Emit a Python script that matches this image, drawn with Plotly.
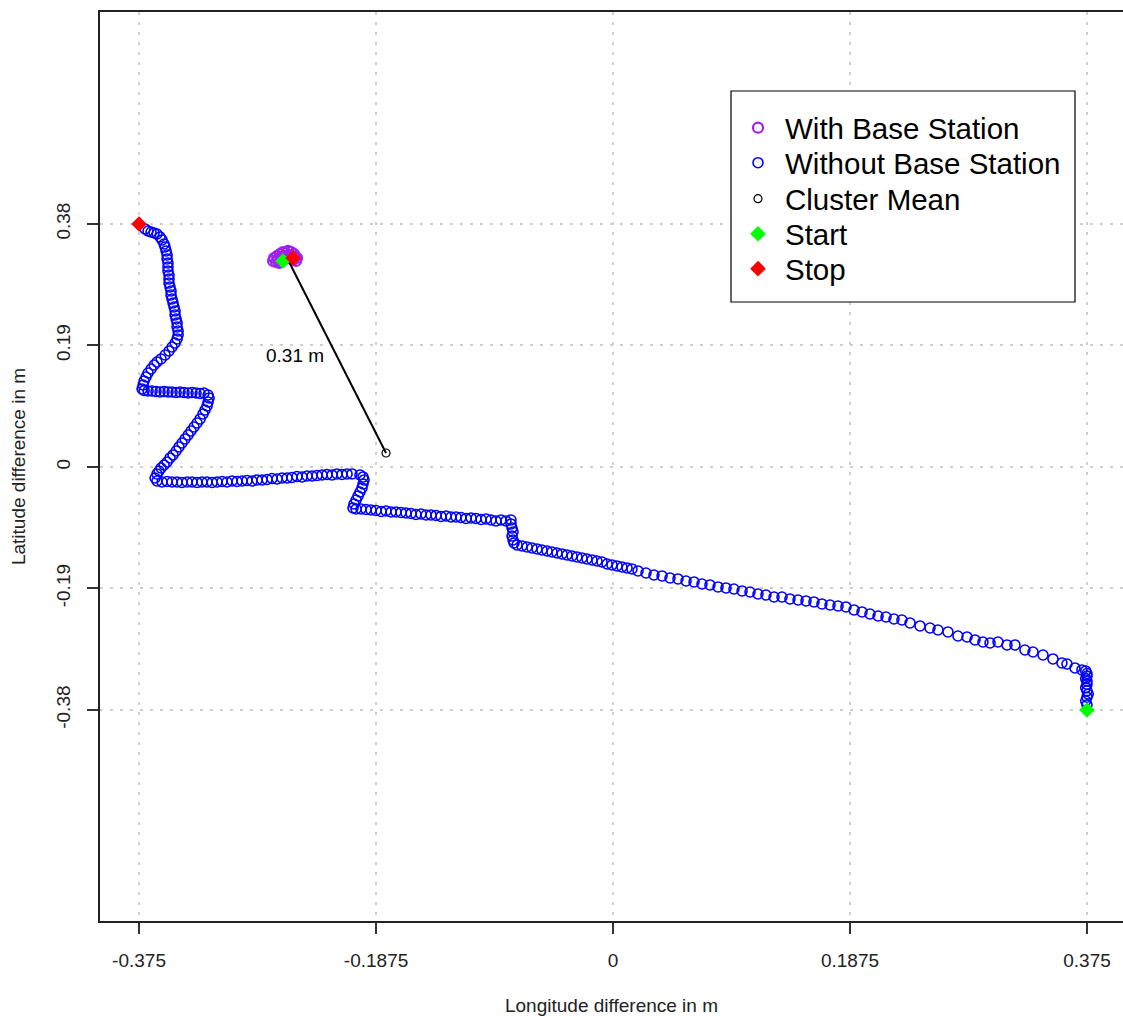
import plotly.graph_objects as go

# ---------------- data ----------------
x_tick_vals = [-0.375, -0.1875, 0, 0.1875, 0.375]
x_tick_text = ["-0.375", "-0.1875", "0", "0.1875", "0.375"]
y_tick_vals = [0.38, 0.19, 0, -0.19, -0.38]
y_tick_text = ["0.38", "0.19", "0", "-0.19", "-0.38"]

# Track without base station (start -> stop)
without_x = [
    0.375, 0.374, 0.375, 0.376, 0.375, 0.374, 0.375, 0.375, 0.374, 0.375, 0.375, 0.374,
    0.3710, 0.3655, 0.3592, 0.3552, 0.3481, 0.3402, 0.3323, 0.3259, 0.3180, 0.3117, 0.3046,
    0.2983, 0.2927, 0.2864, 0.2801, 0.2729, 0.2650, 0.2571, 0.2508, 0.2429, 0.2350, 0.2286,
    0.2223, 0.2160, 0.2097, 0.2033, 0.1970, 0.1907, 0.1843, 0.1780, 0.1717, 0.1653, 0.1590,
    0.1527, 0.1464, 0.1400, 0.1337, 0.1274, 0.1210, 0.1147, 0.1084, 0.1021, 0.0957, 0.0894,
    0.0831, 0.0767, 0.0704, 0.0641, 0.0578, 0.0514, 0.0451, 0.0388, 0.0324, 0.0261, 0.0198,
    0.0150, 0.0111, 0.0071, 0.0032, -0.0008, -0.0047, -0.0087, -0.0127, -0.0166, -0.0206,
    -0.0245, -0.0285, -0.0324, -0.0364, -0.0403, -0.0443, -0.0483, -0.0522, -0.0562, -0.0601,
    -0.0641, -0.0680, -0.0720, -0.0759, -0.0783,
    -0.0791, -0.0799, -0.0791, -0.0799, -0.0807, -0.0807,
    -0.0847, -0.0886, -0.0926, -0.0965, -0.1005, -0.1044, -0.1084, -0.1123, -0.1163, -0.1203,
    -0.1242, -0.1282, -0.1321, -0.1361, -0.1400, -0.1440, -0.1479, -0.1519, -0.1559, -0.1598,
    -0.1638, -0.1677, -0.1717, -0.1756, -0.1796, -0.1835, -0.1875, -0.1915, -0.1954, -0.1994,
    -0.2033,
    -0.2057, -0.2049, -0.2033, -0.2017, -0.2002, -0.1986, -0.1978, -0.1970, -0.1978, -0.2002,
    -0.2065, -0.2104, -0.2144, -0.2184, -0.2223, -0.2263, -0.2302, -0.2342, -0.2381, -0.2421,
    -0.2460, -0.2500, -0.2540, -0.2579, -0.2619, -0.2658, -0.2698, -0.2737, -0.2777, -0.2816,
    -0.2856, -0.2896, -0.2935, -0.2975, -0.3014, -0.3054, -0.3093, -0.3133, -0.3172, -0.3212,
    -0.3252, -0.3291, -0.3331, -0.3370, -0.3410, -0.3449, -0.3489, -0.3528, -0.3568, -0.3608,
    -0.3623, -0.3608, -0.3592, -0.3576, -0.3552, -0.3528, -0.3505, -0.3481, -0.3457, -0.3434,
    -0.3410, -0.3386, -0.3362, -0.3339, -0.3315, -0.3291, -0.3267, -0.3244, -0.3228, -0.3212,
    -0.3204, -0.3196, -0.3204,
    -0.3236, -0.3267, -0.3299, -0.3331, -0.3362, -0.3394, -0.3426, -0.3457, -0.3489, -0.3521,
    -0.3552, -0.3584, -0.3616, -0.3647, -0.3679, -0.3710, -0.3726,
    -0.3718, -0.3710, -0.3695, -0.3679, -0.3655, -0.3631, -0.3608, -0.3576, -0.3544, -0.3513,
    -0.3489, -0.3465, -0.3449, -0.3441,
    -0.3441, -0.3449, -0.3449, -0.3457, -0.3465, -0.3465, -0.3473, -0.3481, -0.3489, -0.3497,
    -0.3497, -0.3505, -0.3513, -0.3513, -0.3513, -0.3521, -0.3521, -0.3521, -0.3528, -0.3528,
    -0.3536, -0.3544, -0.3552,
    -0.3568, -0.3584, -0.3608, -0.3631, -0.3655, -0.3679, -0.3703,
]
without_y = [
    -0.372, -0.366, -0.360, -0.355, -0.350, -0.345, -0.340, -0.335, -0.331, -0.327, -0.323, -0.319,
    -0.3174, -0.3143, -0.3081, -0.3065, -0.3002, -0.2940, -0.2893, -0.2862, -0.2783, -0.2783, -0.2737,
    -0.2752, -0.2737, -0.2705, -0.2658, -0.2643, -0.2580, -0.2549, -0.2518, -0.2486, -0.2439, -0.2393,
    -0.2377, -0.2346, -0.2330, -0.2299, -0.2267, -0.2236, -0.2189, -0.2174, -0.2158, -0.2142, -0.2111,
    -0.2095, -0.2080, -0.2064, -0.2033, -0.2033, -0.2002, -0.1986, -0.1955, -0.1939, -0.1908, -0.1892,
    -0.1876, -0.1845, -0.1830, -0.1798, -0.1783, -0.1751, -0.1736, -0.1704, -0.1689, -0.1658, -0.1626,
    -0.1595, -0.1579, -0.1564, -0.1548, -0.1532, -0.1517, -0.1486, -0.1470, -0.1454, -0.1439,
    -0.1423, -0.1407, -0.1392, -0.1376, -0.1360, -0.1345, -0.1329, -0.1314, -0.1298, -0.1282,
    -0.1267, -0.1251, -0.1235, -0.1220, -0.1188,
    -0.1142, -0.1079, -0.1016, -0.0954, -0.0891, -0.0829,
    -0.0844, -0.0829, -0.0844, -0.0829, -0.0813, -0.0821, -0.0805, -0.0797, -0.0805, -0.0790,
    -0.0782, -0.0782, -0.0766, -0.0774, -0.0758, -0.0751, -0.0751, -0.0735, -0.0743, -0.0727,
    -0.0719, -0.0711, -0.0704, -0.0704, -0.0688, -0.0696, -0.0680, -0.0672, -0.0665, -0.0657,
    -0.0657,
    -0.0641, -0.0579, -0.0516, -0.0453, -0.0391, -0.0328, -0.0266, -0.0203, -0.0156, -0.0125,
    -0.0109, -0.0109, -0.0117, -0.0109, -0.0125, -0.0117, -0.0125, -0.0133, -0.0141, -0.0141,
    -0.0156, -0.0149, -0.0164, -0.0172, -0.0172, -0.0188, -0.0180, -0.0195, -0.0203, -0.0203,
    -0.0219, -0.0211, -0.0219, -0.0227, -0.0219, -0.0235, -0.0227, -0.0235, -0.0242, -0.0235,
    -0.0235, -0.0242, -0.0235, -0.0235, -0.0242, -0.0235, -0.0235, -0.0227, -0.0235, -0.0219,
    -0.0172, -0.0109, -0.0063, -0.0016, 0.0031, 0.0078, 0.0141, 0.0188, 0.0250, 0.0313,
    0.0375, 0.0438, 0.0500, 0.0563, 0.0625, 0.0688, 0.0751, 0.0829, 0.0891, 0.0954,
    0.1016, 0.1079, 0.1126,
    0.1157, 0.1149, 0.1157, 0.1165, 0.1157, 0.1165, 0.1173, 0.1165, 0.1173, 0.1173,
    0.1181, 0.1173, 0.1181, 0.1188, 0.1188, 0.1196, 0.1220,
    0.1282, 0.1345, 0.1407, 0.1470, 0.1532, 0.1595, 0.1642, 0.1689, 0.1751, 0.1814,
    0.1876, 0.1939, 0.2002, 0.2064,
    0.2127, 0.2189, 0.2252, 0.2314, 0.2377, 0.2439, 0.2502, 0.2565, 0.2627, 0.2690,
    0.2752, 0.2815, 0.2877, 0.2940, 0.3002, 0.3065, 0.3127, 0.3190, 0.3253, 0.3315,
    0.3378, 0.3440, 0.3487,
    0.3550, 0.3597, 0.3643, 0.3659, 0.3675, 0.3690, 0.3722,
]

# Cluster with base station
with_x = [-0.2690, -0.2682, -0.2666, -0.2658, -0.2650, -0.2642, -0.2634, -0.2627,
          -0.2619, -0.2611, -0.2603, -0.2595, -0.2587, -0.2579, -0.2571, -0.2563,
          -0.2555, -0.2547, -0.2540, -0.2532, -0.2524, -0.2516, -0.2508, -0.2500]
with_y = [0.3221, 0.3268, 0.3206, 0.3300, 0.3237, 0.3190, 0.3331, 0.3268,
          0.3221, 0.3362, 0.3300, 0.3253, 0.3346, 0.3284, 0.3378, 0.3315,
          0.3268, 0.3362, 0.3300, 0.3237, 0.3331, 0.3284, 0.3221, 0.3268]

start_x = [0.375, -0.2611]
start_y = [-0.38, 0.3221]
stop_x = [-0.375, -0.2532]
stop_y = [0.38, 0.3268]

mean_x = [-0.1796]
mean_y = [0.0219]

dist_x = [-0.2579, -0.1796]
dist_y = [0.3268, 0.0219]
dist_label = "0.31 m"
dist_label_pos = (-0.2516, 0.1736)

FONT = "Liberation Sans, Arial, sans-serif"

W, H = 1123, 1016
ML, MT, MB = 100, 12, 95
PLOT_W = W - ML
PLOT_H = H - MT - MB


def px_x(wx):
    return (wx - ML) / PLOT_W


def px_y(wy):
    return (H - MB - wy) / PLOT_H


legend_rows = [128, 163, 199, 234, 269]
legend_names = ["legend", "legend2", "legend3", "legend4", "legend5"]

fig = go.Figure()

fig.add_trace(go.Scatter(
    x=with_x, y=with_y, mode="markers", name="With Base Station", legend=legend_names[0],
    marker=dict(symbol="circle-open", size=10, color="#A020F0",
                line=dict(color="#A020F0", width=2.2))))
fig.add_trace(go.Scatter(
    x=without_x, y=without_y, mode="markers", name="Without Base Station", legend=legend_names[1],
    marker=dict(symbol="circle-open", size=10, color="#0000FF",
                line=dict(color="#0000FF", width=1.6))))
fig.add_trace(go.Scatter(
    x=dist_x, y=dist_y, mode="lines", showlegend=False,
    line=dict(color="black", width=2)))
fig.add_trace(go.Scatter(
    x=mean_x, y=mean_y, mode="markers", name="Cluster Mean", legend=legend_names[2],
    marker=dict(symbol="circle-open", size=8, color="black",
                line=dict(color="black", width=1.2))))
fig.add_trace(go.Scatter(
    x=start_x, y=start_y, mode="markers", name="Start", legend=legend_names[3],
    marker=dict(symbol="diamond", size=12, color="#00FF00", line=dict(width=0))))
fig.add_trace(go.Scatter(
    x=stop_x, y=stop_y, mode="markers", name="Stop", legend=legend_names[4],
    marker=dict(symbol="diamond", size=12, color="#FF0000", line=dict(width=0))))

fig.add_annotation(x=dist_label_pos[0], y=dist_label_pos[1], text=dist_label,
                   showarrow=False, font=dict(family=FONT, size=19, color="black"))

# legend box
fig.add_shape(type="rect", xref="paper", yref="paper",
              x0=px_x(731), x1=px_x(1075), y0=px_y(302), y1=px_y(91),
              line=dict(color="black", width=1.2), fillcolor="white", layer="above")

grid = dict(showgrid=True, gridcolor="#d0d0d0", gridwidth=2, griddash="3px,7px")

legend_layouts = {}
for name, row in zip(legend_names, legend_rows):
    legend_layouts[name] = dict(
        x=px_x(731), y=px_y(row), xanchor="left", yanchor="middle",
        bgcolor="rgba(0,0,0,0)", borderwidth=0, itemwidth=44,
        font=dict(family=FONT, size=29.5, color="black"))

fig.update_layout(
    width=W, height=H,
    margin=dict(l=ML, r=0, t=MT, b=MB),
    paper_bgcolor="white", plot_bgcolor="white",
    font=dict(family=FONT, color="black"),
    showlegend=True,
    xaxis=dict(range=[-0.4059, 0.4035], tickvals=x_tick_vals, ticktext=x_tick_text,
               zeroline=False, showline=True, linecolor="#222", linewidth=2, mirror=True,
               ticks="outside", ticklen=11, tickwidth=1.5, tickcolor="#333",
               tickfont=dict(family=FONT, size=19, color="#222"), ticklabelstandoff=10,
               title=dict(text="Longitude difference in m",
                          font=dict(family=FONT, size=19, color="#222"), standoff=31),
               **grid),
    yaxis=dict(range=[-0.71, 0.7115], tickvals=y_tick_vals, ticktext=y_tick_text,
               zeroline=False, showline=True, linecolor="#222", linewidth=2, mirror=False,
               ticks="outside", ticklen=11, tickwidth=1.5, tickcolor="#333", tickangle=-90,
               tickfont=dict(family=FONT, size=19, color="#222"), ticklabelstandoff=9,
               title=dict(text="Latitude difference in m",
                          font=dict(family=FONT, size=19, color="#222"), standoff=23),
               **grid),
    **legend_layouts,
)

# remove the browser's default page margin so the figure sits at the window origin
fig.write_html("out.html",
               config={"displayModeBar": False},
               post_script="document.body.style.margin='0';document.body.style.overflow='hidden';")
